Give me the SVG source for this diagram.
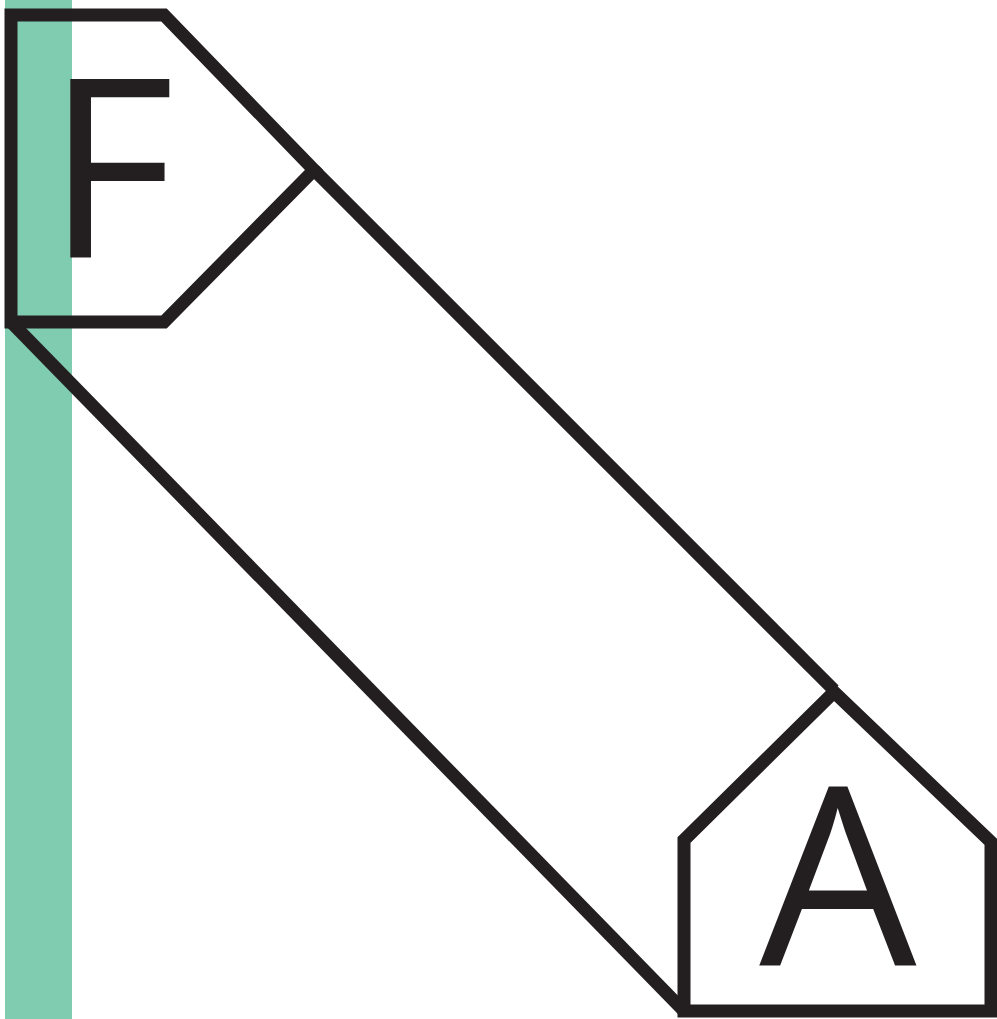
<svg xmlns="http://www.w3.org/2000/svg" width="997" height="1019" viewBox="0 0 997 1019">
<style>
.s{fill:none;stroke:#231F20;stroke-width:13;stroke-linejoin:miter;stroke-miterlimit:10}
.t{font-family:"Open Sans","Noto Sans",sans-serif;font-size:249px;fill:#231F20}
</style>
<rect x="5" y="0" width="67" height="1019" fill="#80CCB0"/>
<g id="connectors">
<line class="s" x1="314" y1="170" x2="834" y2="690"/>
<line class="s" x1="11" y1="322" x2="684" y2="1011"/>
</g>
<g id="nodeF">
<polygon class="s" points="11,15 164,15 314,170 164,322 11,322"/>
<text class="t" x="46" y="257">F</text>
</g>
<g id="nodeA">
<polygon class="s" points="834,692 991,842 991,1011 684,1011 684,840"/>
<text class="t" x="838" y="966" text-anchor="middle">A</text>
</g>
</svg>
